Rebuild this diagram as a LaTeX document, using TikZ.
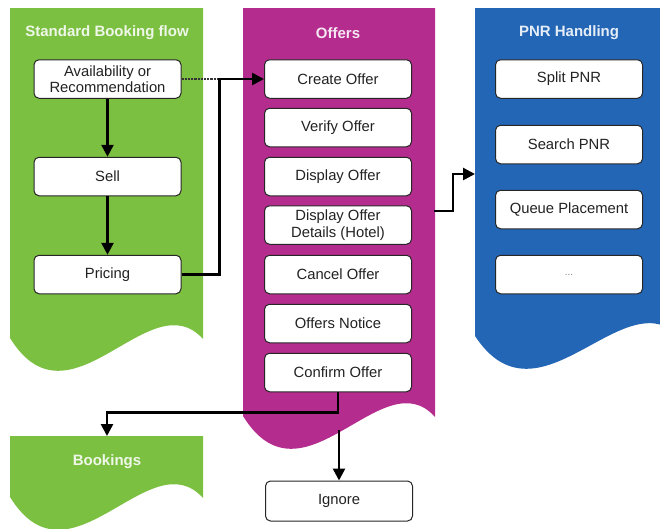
\documentclass[tikz,border=0pt]{standalone}
\usepackage{fontspec}
\setmainfont{Liberation Sans}
\usetikzlibrary{arrows.meta}
\definecolor{pgreen}{RGB}{124,192,66}
\definecolor{pmag}{RGB}{180,44,142}
\definecolor{pblue}{RGB}{36,102,182}
\definecolor{txt}{RGB}{34,34,34}
\tikzset{
  box/.style={draw=black!85, line width=1pt, rounded corners=5pt, fill=white,
    minimum width=147pt, minimum height=38.5pt, inner sep=1pt, align=center,
    text=txt, font=\fontsize{14.8}{16.5}\selectfont},
  title/.style={font=\bfseries\fontsize{15}{17}\selectfont, inner sep=0pt},
  conn/.style={line width=2.6pt, draw=black},
  arr/.style={conn, -{Triangle[length=12pt,width=12pt]}},
  dotconn/.style={line width=2.2pt, densely dotted, draw=black!80},
}
\begin{document}
\begin{tikzpicture}[x=1pt,y=-1pt]
\useasboundingbox (0,0) rectangle (660,528);
\clip (0,0) rectangle (660,528);
% panels
\fill[pgreen] (10,8) -- (203,8) -- (203,339) .. controls (150,280) and (70,435) .. (10,338) -- cycle;
\fill[pmag] (243,8) -- (435,8) -- (435,417) .. controls (383,358) and (303,513) .. (243,416) -- cycle;
\fill[pblue] (475,8) -- (680,8) -- (680,337) .. controls (624,278) and (539,433) .. (475,336) -- cycle;
\fill[pgreen] (10,436) -- (203,436) -- (203,498) .. controls (150,439) and (70,594) .. (10,497) -- cycle;
% titles
\node[title, text=white!88!pgreen] (t1) at (107,33) {Standard Booking flow};
\node[title, text=white!88!pmag] (t2) at (338,33) {Offers};
\node[title, text=white!88!pblue] (t3) at (569,33) {PNR Handling};
\node[title, text=white!88!pgreen] (bookings) at (107,462) {Bookings};
% coordinates
\coordinate (dotend) at (219,79);
\coordinate (oe) at (434,211);
\coordinate (pnrw) at (475,174);
\coordinate (bktop) at (107,436);
\coordinate (ob) at (339,430);
% boxes
\node[box] (avail) at (107.5,79) {Availability or\\Recommendation};
\node[box] (sell) at (107.5,176.5) {Sell};
\node[box] (pricing) at (107.5,274.5) {Pricing};
\node[box] (create) at (338,79) {Create Offer};
\node[box] (verify) at (338,127.5) {Verify Offer};
\node[box] (display) at (338,176.5) {Display Offer};
\node[box] (details) at (338,225) {Display Offer\\Details (Hotel)};
\node[box] (cancel) at (338,274.5) {Cancel Offer};
\node[box] (notice) at (338,323.5) {Offers Notice};
\node[box] (confirm) at (338,372.5) {Confirm Offer};
\node[box, minimum height=40pt] (ignore) at (339,501) {Ignore};
\node[box] (split) at (569,79) {Split PNR};
\node[box] (search) at (569,144.5) {Search PNR};
\node[box] (queue) at (569,209.5) {Queue Placement};
\node[box] (dots) at (569,274.5) {\textcolor{black!50}{\fontsize{10}{12}\selectfont...}};
% connectors
\draw[arr] (avail) -- (sell);
\draw[arr] (sell) -- (pricing);
\draw[dotconn] (avail.east) -- (dotend);
\draw[arr] (pricing.east) -- ++(38,0) |- (create.west);
\draw[arr] (oe) -- ++(19,0) |- (pnrw);
\draw[arr] (confirm.south) -- ++(0,20) -| (bktop);
\draw[arr] (ob) -- (ignore.north);
\end{tikzpicture}
\end{document}
